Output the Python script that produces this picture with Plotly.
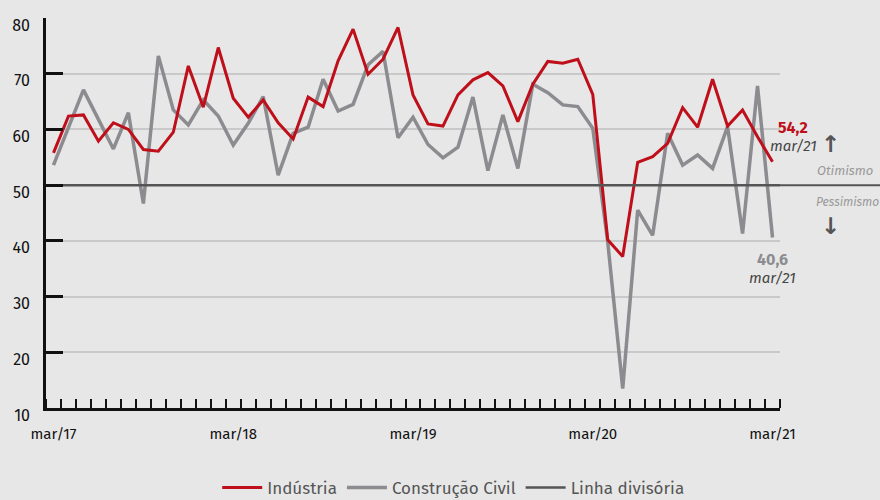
import plotly.graph_objects as go

months = list(range(49))  # mar/17 .. mar/21, monthly
industria = [55.8, 62.4, 62.6, 57.9, 61.2, 60.0, 56.4, 56.1, 59.5, 71.4,
             64.0, 74.7, 65.6, 62.2, 65.3, 61.2, 58.3, 65.8, 64.1, 72.3,
             78.0, 69.9, 72.6, 78.3, 66.2, 61.0, 60.6, 66.2, 68.9, 70.2,
             67.8, 61.4, 68.1, 72.2, 71.9, 72.6, 66.3, 40.2, 37.2, 54.1,
             55.1, 57.5, 63.9, 60.4, 69.0, 60.6, 63.5, 58.7, 54.2]
construcao = [53.6, 60.4, 67.1, 61.8, 56.5, 63.0, 46.7, 73.2, 63.5, 60.8,
              65.3, 62.4, 57.2, 61.1, 65.9, 51.8, 59.3, 60.4, 69.0, 63.3,
              64.5, 71.6, 74.0, 58.5, 62.2, 57.3, 54.9, 56.8, 65.8, 52.6,
              62.6, 53.0, 68.1, 66.6, 64.4, 64.1, 60.2, 39.8, 13.5, 45.5,
              41.0, 59.3, 53.6, 55.4, 53.0, 60.5, 41.3, 67.8, 40.6]
divisoria_x = [-0.5, 48.5]
divisoria_y = [50, 50]

xtick_vals = [0, 12, 24, 36, 48]
xtick_text = ["mar/17", "mar/18", "mar/19", "mar/20", "mar/21"]
ytick_vals = [10, 20, 30, 40, 50, 60, 70, 80]
ytick_text = ["10", "20", "30", "40", "50", "60", "70", "80"]
last_label = "mar/21"

RED = "#be0f1a"
GRAY = "#8c8c90"
DARK = "#555555"
BG = "#e7e7e7"
FONT = "Fira Sans, Roboto, sans-serif"

fig = go.Figure()
fig.add_trace(go.Scatter(x=months, y=construcao, mode="lines", name="Construção Civil",
                         line=dict(color=GRAY, width=3.5), legendrank=2))
fig.add_trace(go.Scatter(x=months, y=industria, mode="lines", name="Indústria",
                         line=dict(color=RED, width=3), legendrank=1))
fig.add_trace(go.Scatter(x=divisoria_x, y=divisoria_y, mode="lines", name="Linha divisória",
                         line=dict(color=DARK, width=2.5), legendrank=3))

# extension of the dividing line beyond the plot area
fig.add_shape(type="line", xref="paper", yref="y", x0=1, x1=1.2, y0=50, y1=50,
              line=dict(color=DARK, width=2), layer="above")

def fmt(v):
    return f"{v:.1f}".replace(".", ",")

ann = []
ann.append(dict(x=months[-1], y=industria[-1], text=f"<b>{fmt(industria[-1])}</b>",
                xshift=20, yshift=34, showarrow=False,
                font=dict(family=FONT, size=16, color=RED)))
ann.append(dict(x=months[-1], y=industria[-1], text=f"<i>{last_label}</i>",
                xshift=21, yshift=16, showarrow=False,
                font=dict(family=FONT, size=15, color="#444444")))
ann.append(dict(x=months[-1], y=construcao[-1], text=f"<b>{fmt(construcao[-1])}</b>",
                xshift=0, yshift=-22, showarrow=False,
                font=dict(family=FONT, size=16, color=GRAY)))
ann.append(dict(x=months[-1], y=construcao[-1], text=f"<i>{last_label}</i>",
                xshift=0, yshift=-40, showarrow=False,
                font=dict(family=FONT, size=15, color="#444444")))
ann.append(dict(x=months[-1], y=50, text="<i>Otimismo</i>", xanchor="left",
                xshift=42, yshift=15, showarrow=False,
                font=dict(family=FONT, size=13, color="#999999")))
ann.append(dict(x=months[-1], y=50, text="<i>Pessimismo</i>", xanchor="left",
                xshift=41, yshift=-17, showarrow=False,
                font=dict(family=FONT, size=12, color="#999999")))
ann.append(dict(x=months[-1], y=50, text="<b>↑</b>",
                xshift=58, yshift=41, showarrow=False,
                font=dict(family="DejaVu Sans", size=23, color=DARK)))
ann.append(dict(x=months[-1], y=50, text="<b>↓</b>",
                xshift=58, yshift=-41, showarrow=False,
                font=dict(family="DejaVu Sans", size=23, color=DARK)))

fig.update_layout(
    width=880, height=500,
    paper_bgcolor=BG, plot_bgcolor=BG,
    margin=dict(l=45.5, r=99.5, t=18, b=92),
    font=dict(family=FONT, size=15, color="#111111"),
    showlegend=True,
    legend=dict(orientation="h", xref="container", yref="container",
                x=0.515, xanchor="center", y=0.06, yanchor="top",
                font=dict(family=FONT, size=17, color=DARK),
                bgcolor="rgba(0,0,0,0)", itemwidth=40, tracegroupgap=0),
    annotations=ann,
    xaxis=dict(range=[-0.5, 48.5], showgrid=False, zeroline=False,
               showline=True, linecolor="#111111", linewidth=2.5,
               tickmode="array", tickvals=xtick_vals, ticktext=xtick_text,
               ticks="", ticklabelstandoff=10,
               tickfont=dict(family=FONT, size=15, color="#111111"),
               minor=dict(ticks="inside", ticklen=9, tickwidth=2, tickcolor="#111111",
                          tickmode="linear", tick0=0.5, dtick=1, showgrid=False)),
    yaxis=dict(range=[10, 80], showgrid=True, gridcolor="#c9c9c9", gridwidth=1.5,
               zeroline=False, showline=True, linecolor="#111111", linewidth=2.5,
               tickmode="array", tickvals=ytick_vals, ticktext=ytick_text,
               ticks="inside", ticklen=17, tickwidth=2.5, tickcolor="#111111",
               ticklabelstandoff=10, ticklabelshift=7,
               tickfont=dict(family=FONT, size=16, color="#111111")),
)

fig.write_html("out.html", config={"displayModeBar": False},
               post_script="document.body.style.margin='0';document.body.style.overflow='hidden';")
